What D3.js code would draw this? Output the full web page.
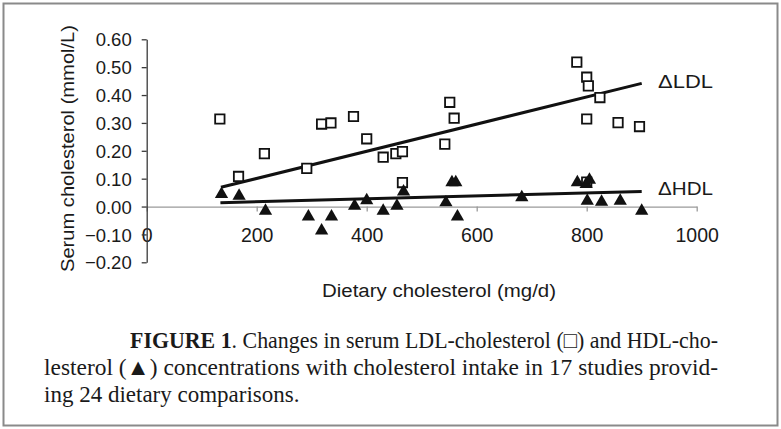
<!DOCTYPE html>
<html lang="en">
<head>
    <meta charset="UTF-8">
    <title>Figure 1 - Dietary cholesterol</title>
    <script src="https://cdn.jsdelivr.net/npm/d3@7/dist/d3.min.js"></script>
    <style>
        body { margin: 0; background: #ffffff; }
        svg text { font-family: "Liberation Sans", Arial, sans-serif; fill: #1a1a1a; }
        svg text.caption { font-family: "Liberation Serif", "Times New Roman", serif; }
    </style>
</head>
<body>
    <div id="canvas"></div>

    <script>

        // dietary cholesterol (mg/d) and change in LDL (mmol/L)
        const ldlX = [133, 167, 214, 291, 318, 335, 376, 400, 430, 453, 465, 465, 542, 551, 559, 782, 800, 803, 800, 800, 824, 857, 896];
        const ldlY = [0.314, 0.108, 0.190, 0.137, 0.296, 0.300, 0.323, 0.243, 0.177, 0.190, 0.197, 0.086, 0.224, 0.374, 0.317, 0.518, 0.464, 0.433, 0.314, 0.088, 0.391, 0.301, 0.287];

        // change in HDL (mmol/L)
        const hdlX = [136, 168, 216, 294, 318, 336, 378, 400, 430, 455, 467, 544, 555, 562, 565, 682, 783, 799, 805, 801, 827, 861, 900];
        const hdlY = [0.048, 0.042, -0.012, -0.033, -0.083, -0.033, 0.006, 0.026, -0.012, 0.006, 0.057, 0.018, 0.090, 0.090, -0.033, 0.036, 0.090, 0.084, 0.099, 0.024, 0.020, 0.024, -0.012];

        // fitted regression lines: [x, y] end points
        const ldlFit = [[135, 0.069], [900, 0.442]];
        const hdlFit = [[134, 0.014], [900, 0.054]];

        const xTicks = [0, 200, 400, 600, 800, 1000];
        const yTicks = [0.6, 0.5, 0.4, 0.3, 0.2, 0.1, 0, -0.1, -0.2];

        const captionLines = [
            ['FIGURE 1', '. Changes in serum LDL-cholesterol (\u25A1) and HDL-cho-'],
            ['', 'lesterol (\u25B2) concentrations with cholesterol intake in 17 studies provid-'],
            ['', 'ing 24 dietary comparisons.']
        ];

    </script>

    <script>

        const width = 781;
        const height = 429;

        const svg = d3.select('#canvas')
            .append('svg')
            .attr('width', width)
            .attr('height', height);

        // outer frame
        svg.append('rect')
            .attr('x', 3.5)
            .attr('y', 3.5)
            .attr('width', width - 7)
            .attr('height', height - 7)
            .attr('fill', 'none')
            .attr('stroke', '#8a8a8a')
            .attr('stroke-width', 2);

        const x = d3.scaleLinear().domain([0, 1000]).range([146.7, 696.7]);
        const y = d3.scaleLinear().domain([-0.2, 0.6]).range([262.3, 39.3]);

        // x axis sits on y = 0
        const xAxis = svg.append('g')
            .attr('transform', `translate(0, ${y(0)})`)
            .call(d3.axisBottom(x).tickValues(xTicks).tickSize(5).tickSizeOuter(0).tickFormat(d3.format('d')));

        xAxis.select('.domain').attr('stroke', '#9a9a9a').attr('stroke-width', 1.3);
        xAxis.selectAll('.tick line').attr('stroke', '#9a9a9a').attr('stroke-width', 1.3);
        xAxis.selectAll('.tick text')
            .attr('y', 242 - y(0))
            .attr('dy', null)
            .attr('font-size', 19.5)
            .attr('font-family', null)
            .attr('fill', null);

        // y axis
        const yAxis = svg.append('g')
            .attr('transform', `translate(${x(0)}, 0)`)
            .call(d3.axisLeft(y).tickValues(yTicks).tickSize(5).tickSizeOuter(0).tickPadding(10).tickFormat(d3.format('.2f')));

        yAxis.select('.domain').attr('stroke', '#3a3a3a').attr('stroke-width', 1.3);
        yAxis.selectAll('.tick line').attr('stroke', '#3a3a3a').attr('stroke-width', 1.3);
        yAxis.selectAll('.tick text')
            .attr('dy', '0.36em')
            .attr('font-size', 18.5)
            .attr('font-family', null)
            .attr('fill', null);

        // axis titles
        svg.append('text')
            .attr('transform', 'translate(74, 148.5) rotate(-90)')
            .attr('text-anchor', 'middle')
            .attr('font-size', 18.5)
            .attr('textLength', 247)
            .attr('lengthAdjust', 'spacingAndGlyphs')
            .text('Serum cholesterol (mmol/L)');

        svg.append('text')
            .attr('x', 439)
            .attr('y', 297)
            .attr('text-anchor', 'middle')
            .attr('font-size', 18)
            .attr('textLength', 234)
            .attr('lengthAdjust', 'spacingAndGlyphs')
            .text('Dietary cholesterol (mg/d)');

        // regression lines
        const line = d3.line().x((d) => x(d[0])).y((d) => y(d[1]));

        [ldlFit, hdlFit].forEach((fit) => {
            svg.append('path')
                .attr('d', line(fit))
                .attr('fill', 'none')
                .attr('stroke', '#111111')
                .attr('stroke-width', 3);
        });

        // LDL: open squares
        const ldl = ldlX.map((v, i) => ({ x: v, y: ldlY[i] }));
        svg.selectAll('.ldl')
            .data(ldl)
            .enter()
            .append('path')
            .attr('class', 'ldl')
            .attr('transform', (d) => `translate(${x(d.x)}, ${y(d.y)})`)
            .attr('d', d3.symbol().type(d3.symbolSquare).size(88))
            .attr('fill', '#ffffff')
            .attr('stroke', '#111111')
            .attr('stroke-width', 1.8);

        // HDL: filled triangles
        const hdl = hdlX.map((v, i) => ({ x: v, y: hdlY[i] }));
        svg.selectAll('.hdl')
            .data(hdl)
            .enter()
            .append('path')
            .attr('class', 'hdl')
            .attr('transform', (d) => `translate(${x(d.x)}, ${y(d.y) + 1})`)
            .attr('d', d3.symbol().type(d3.symbolTriangle).size(76))
            .attr('fill', '#111111');

        // series labels
        svg.append('text')
            .attr('x', 658)
            .attr('y', 88)
            .attr('font-size', 18.5)
            .attr('textLength', 55)
            .attr('lengthAdjust', 'spacingAndGlyphs')
            .text('\u0394LDL');

        svg.append('text')
            .attr('x', 658)
            .attr('y', 195)
            .attr('font-size', 18.5)
            .attr('textLength', 55)
            .attr('lengthAdjust', 'spacingAndGlyphs')
            .text('\u0394HDL');

        // caption
        const captionX = [130, 44, 44];
        const captionY = [348, 375, 402];
        const captionLen = [588, 674, null];

        captionLines.forEach((parts, i) => {
            const t = svg.append('text')
                .attr('class', 'caption')
                .attr('x', captionX[i])
                .attr('y', captionY[i])
                .attr('font-size', 23);

            if(captionLen[i]) {
                t.attr('textLength', captionLen[i]).attr('lengthAdjust', 'spacingAndGlyphs');
            }

            if(parts[0]) {
                t.append('tspan').attr('font-weight', 'bold').text(parts[0]);
            }
            t.append('tspan').text(parts[1]);
        });

    </script>
</body>
</html>
